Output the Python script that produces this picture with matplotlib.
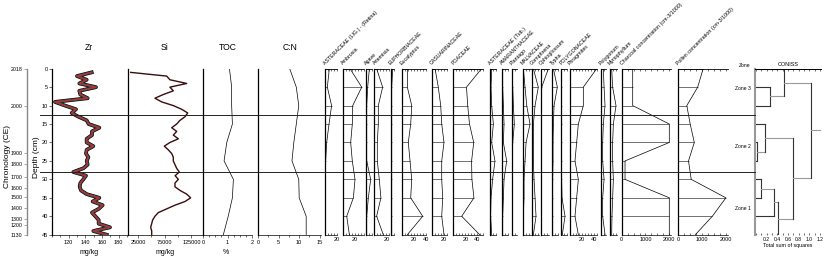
import matplotlib
matplotlib.use("Agg")
import matplotlib.pyplot as plt
from matplotlib.lines import Line2D
from matplotlib.transforms import blended_transform_factory
from matplotlib.ticker import MultipleLocator, FixedLocator

plt.rcParams['font.family'] = ['Liberation Sans', 'DejaVu Sans']

# ---------------- data ----------------
xrf_depth = list(range(1, 46))
zr = [147.6, 130, 141.6, 132.8, 152.8, 132.8, 134, 142.8, 103.6, 115.6,
      128.8, 123.6, 131.6, 141.6, 144, 156.8, 148, 148, 141.6, 141.6,
      149.6, 141.6, 140.8, 143.6, 141.6, 142.8, 137.6, 125.6, 140.8, 137.6,
      134, 133.2, 134.8, 141.6, 156.8, 148.8, 160.8, 156, 148, 152,
      156, 156, 169.6, 149.6, 165.6]
si = [11300, 78600, 84700, 116000, 84700, 91000, 72300, 56700, 69200, 91000,
      106600, 117900, 112900, 103500, 97300, 88000, 97300, 91000, 100400, 84700,
      74200, 81700, 88000, 91000, 91000, 94100, 97300, 102200, 94400, 100400,
      94100, 94100, 103500, 116000, 123400, 112900, 94100, 78600, 63000, 56700,
      52400, 50600, 48700, 50600, 50600]

sample_depth = [0, 5, 10, 15, 20, 25, 30, 35, 40, 45]
toc = [1.08, 1.17, 1.17, 1.2, 0.97, 0.86, 1.24, 1.2, 1.03, 0.83]
cn = [7.7, 9.3, 9.9, 9.3, 8.7, 8.25, 9.9, 10.0, 11.7, 11.7]

aster_lig = [7.2, 3.9, 11, 6.7, 2.8, 1.1, 0.5, 0.5, 0.5, 0.5]
ambrosia = [12.2, 31.7, 16.7, 16, 13.3, 16, 20.5, 17.8, 6.7, 11.1]
agave = [6.1, 3.3, 1.7, 1.7, 1.7, 1.7, 8.3, 4.4, 1.7, 1.7]
artemisia = [3.9, 13.9, 6.7, 6.7, 5, 5, 8.3, 11, 3.9, 15]
euphorb = [3.3, 1.7, 1.7, 1.7, 1.7, 1.7, 1.7, 1.7, 1.7, 1.7]
eucalyptus = [9.4, 9.4, 16.7, 15, 11, 13.9, 16.7, 15, 35, 9.4]
casuarina = [5.6, 11, 15, 16.7, 20.5, 16.7, 16.7, 18.3, 16.7, 20.5]
poaceae = [47, 22, 24, 27, 34, 30.5, 31, 34.4, 14, 44]
aster_tub = [2.8, 1.7, 2.8, 5.6, 2.8, 8.3, 4.4, 1.7, 1.1, 2.8]
amaranth = [1.7, 1.7, 2.8, 3.9, 2.8, 8.3, 3.9, 2.8, 1.7, 1.7]
plantago = [1.1, 1.7, 2.8, 4.4, 1.7, 0.6, 0.6, 0.6, 0.6, 0.6]
malvaceae = [1.1, 3.9, 6.7, 12.2, 5.6, 3.9, 2.2, 2.2, 1.1, 1.1]
gomphrena = [2.8, 11, 5.6, 2.8, 2.8, 2.8, 3.9, 5.6, 7.2, 2.8]
ophioglossum = [12.8, 1.7, 1.1, 1.1, 1.1, 1.1, 1.1, 1.1, 1.1, 1.1]
typha = [2.8, 9.4, 3.9, 2.8, 2.2, 2.2, 1.7, 1.7, 1.7, 1.7]
polygonaceae = [1.1, 1.1, 1.1, 1.1, 1.1, 1.1, 1.1, 1.7, 6.7, 2.2]
phragmites = [44.4, 22.2, 22.2, 13.9, 11.1, 8.3, 13.9, 11.1, 8.3, 13.9]
polygonum = [4.4, 5.6, 7.2, 4.4, 3.3, 3.3, 5.6, 3.3, 3.3, 7.2]
myriophyllum = [2.8, 4.4, 10, 5.6, 4.4, 4.4, 5.6, 4.4, 3.3, 2.8]
charcoal = [462, 462, 462, 2000, 2000, 140, 140, 2000, 2000, 2000]
pollen_conc = [1045, 815, 357, 500, 672, 429, 543, 2000, 1430, 715]

taxa = ["ASTERACEAE (LIG.) - (Retina)", "Ambrosia", "Agave", "Artemisia",
        "EUPHORBIACEAE", "Eucalyptus", "CASUARINACEAE", "POACEAE",
        "ASTERACEAE (Tub.)", "AMARANTHACEAE", "Plantago", "MALVACEAE",
        "Gomphrena", "Ophioglossum", "Typha", "POLYGONACEAE", "Phragmites",
        "Polygonum", "Myriophyllum"]
taxa_values = [aster_lig, ambrosia, agave, artemisia, euphorb, eucalyptus,
               casuarina, poaceae, aster_tub, amaranth, plantago, malvaceae,
               gomphrena, ophioglossum, typha, polygonaceae, phragmites,
               polygonum, myriophyllum]
taxa_max = [20, 35, 10, 25, 5, 40, 25, 50, 10, 10, 8, 13, 12, 14, 10, 10, 45, 8, 12]

conc_names = ["Charcoal concentration (cm-3/1000)", "Pollen concentration (cm-3/1000)"]
conc_values = [charcoal, pollen_conc]

chron_years = [2018, 2000, 1900, 1800, 1700, 1600, 1500, 1400, 1300, 1200, 1130]
chron_depth = [0, 10.0, 22.9, 25.8, 29.4, 32.3, 34.8, 37.8, 40.8, 42.5, 45]

zone_bounds = [12.5, 28]
zone_names = ["Zone 3", "Zone 2", "Zone 1"]
zone_label_depth = [5.5, 21, 38]

# CONISS merges: (child a, child b, height); leaves 0-9, new clusters from 10
coniss = [(4, 5, 0.02), (6, 7, 0.09), (3, 10, 0.17), (1, 2, 0.26),
          (11, 8, 0.34), (14, 9, 0.42), (0, 13, 0.53), (12, 15, 0.70),
          (16, 17, 1.04)]

# ---------------- layout ----------------
W, H = 825, 258
TOP, BOT = 68.7, 234.7
FS_TICK = 4.0
FS_TITLE = 6.2

fig = plt.figure(figsize=(W / 100, H / 100), dpi=100)


def add_ax(x0, x1):
    return fig.add_axes([x0 / W, (H - BOT) / H, (x1 - x0) / W, (BOT - TOP) / H])


def base_style(ax, left_lw=0.9):
    ax.set_ylim(45, 0)
    ax.patch.set_alpha(0)
    for s in ['right', 'top']:
        ax.spines[s].set_visible(False)
    ax.spines['left'].set_linewidth(left_lw)
    ax.spines['bottom'].set_linewidth(0.5)
    ax.tick_params(axis='y', left=False, labelleft=False)
    ax.tick_params(axis='x', which='both', labelsize=FS_TICK, length=2, width=0.4, pad=1.5)
    ax.tick_params(axis='x', which='minor', length=1.2)


# chronology axis
ax_chr = add_ax(27, 27.5)
ax_chr.set_ylim(45, 0)
ax_chr.patch.set_alpha(0)
for s in ['right', 'top', 'bottom']:
    ax_chr.spines[s].set_visible(False)
ax_chr.spines['left'].set_color('#888888')
ax_chr.spines['left'].set_linewidth(1.0)
ax_chr.set_xticks([])
ax_chr.set_yticks(chron_depth)
ax_chr.set_yticklabels([str(y) for y in chron_years])
ax_chr.tick_params(axis='y', labelsize=3.8, length=2.5, width=0.5, color='#888888', pad=1)
fig.text(8 / W, 1 - 157 / H, "Chronology (CE)", rotation=90, ha='center', va='center', fontsize=6)

# Zr
ax_zr = add_ax(52, 127)
base_style(ax_zr)
ax_zr.plot(zr, xrf_depth, color='black', lw=2.7, solid_joinstyle='round')
ax_zr.plot(zr, xrf_depth, color='#4a4a4a', lw=1.9, solid_joinstyle='round')
ax_zr.plot(zr, xrf_depth, color='#d42a2a', lw=0.7)
ax_zr.set_xlim(100, 190)
ax_zr.set_xticks([120, 140, 160, 180])
ax_zr.xaxis.set_minor_locator(MultipleLocator(10))
ax_zr.tick_params(axis='y', left=True, labelleft=True, labelsize=FS_TICK, length=2, width=0.4, pad=1)
ax_zr.set_yticks(range(0, 50, 5))
fig.text(36 / W, 1 - 157 / H, "Depth (cm)", rotation=90, ha='center', va='center', fontsize=6)

# Si
ax_si = add_ax(128, 203)
base_style(ax_si)
ax_si.plot(si, xrf_depth, color='#3a0c0c', lw=1.0)
ax_si.set_xlim(6300, 146500)
ax_si.set_xticks([25000, 75000, 125000])
ax_si.xaxis.set_minor_locator(FixedLocator([50000, 100000]))

# TOC
ax_toc = add_ax(203, 252)
base_style(ax_toc)
ax_toc.plot(toc, sample_depth, color='black', lw=0.5)
ax_toc.set_xlim(0, 2)
ax_toc.set_xticks([0, 1, 2])
ax_toc.xaxis.set_minor_locator(MultipleLocator(0.25))

# C:N
ax_cn = add_ax(258, 321)
base_style(ax_cn)
ax_cn.plot(cn, sample_depth, color='black', lw=0.5)
ax_cn.set_xlim(0, 15.3)
ax_cn.set_xticks([0, 5, 10, 15])
ax_cn.xaxis.set_minor_locator(MultipleLocator(2.5))

for x, t in [(89, "Zr"), (165, "Si"), (228, "TOC"), (290, "C:N")]:
    fig.text(x / W, 1 - 48 / H, t, ha='center', va='center', fontsize=FS_TITLE)
for x, t in [(89, "mg/kg"), (165, "mg/kg"), (226, "%")]:
    fig.text(x / W, 1 - 253 / H, t, ha='center', va='center', fontsize=5)

# pollen panels
PX_PER_PCT = 0.6
pollen_left = [325, 342.7, 365.7, 374.3, 390.7, 401.7, 431.7, 453.3, 490, 501.7,
               511.7, 522.7, 531.7, 540.7, 551.7, 561, 570, 600.7, 610]


def pollen_panel(x0, width, xmax, vals, name, major, minor):
    ax = add_ax(x0, x0 + width)
    base_style(ax)
    ax.spines['top'].set_visible(True)
    ax.spines['top'].set_linewidth(0.6)
    ax.hlines(sample_depth, 0, vals, color='#5a5a5a', lw=0.6)
    ax.plot(vals, sample_depth, color='black', lw=0.5)
    ax.set_xlim(0, xmax)
    ax.xaxis.set_major_locator(FixedLocator(major))
    ax.xaxis.set_minor_locator(MultipleLocator(minor))
    ax.tick_params(axis='x', which='both', direction='in', top=True, length=1.5)
    fig.text((x0 + 1) / W, 1 - (TOP - 3) / H, name, rotation=45, ha='left', va='bottom',
             rotation_mode='anchor', fontsize=3.8)
    return ax


for x0, name, vals, xmax in zip(pollen_left, taxa, taxa_values, taxa_max):
    major = [m for m in (20, 40) if m <= xmax]
    pollen_panel(x0, xmax * PX_PER_PCT, xmax, vals, name, major, 5)

conc_left = [621.7, 678.3]
for x0, name, vals in zip(conc_left, conc_names, conc_values):
    pollen_panel(x0, 49.5, 2080, vals, name, [0, 1000, 2000], 250)

# zone boundaries across the figure
trans = blended_transform_factory(fig.transFigure, ax_zr.transData)
for d in zone_bounds:
    fig.add_artist(Line2D([40 / W, 755 / W], [d, d], transform=trans, color='#222222', lw=0.7))

# dendrogram (CONISS)
ax_d = add_ax(755, 821)
ax_d.set_ylim(45, 0)
ax_d.set_xlim(-0.02, 1.22)
ax_d.patch.set_alpha(0)
ax_d.spines['right'].set_visible(False)
ax_d.spines['bottom'].set_visible(False)
ax_d.spines['left'].set_color('#999999')
ax_d.spines['left'].set_linewidth(1.5)
ax_d.spines['top'].set_linewidth(0.7)
ax_d.set_yticks([])
ax_d.set_xticks([0, 0.2, 0.4, 0.6, 0.8, 1.0, 1.2])
ax_d.set_xticklabels(["", "0.2", "0.4", "0.6", "0.8", "1.0", "1.2"])
ax_d.xaxis.set_minor_locator(MultipleLocator(0.1))
ax_d.tick_params(axis='x', which='both', top=True, direction='in', labelsize=3.6, length=1.5,
                 width=0.4, pad=1.5)
ax_d.set_xlabel("Total sum of squares", fontsize=3.8, labelpad=1)
ax_d.set_title("CONISS", fontsize=4, pad=2)

node_y = {i: d for i, d in enumerate(sample_depth)}
node_x = {i: 0.0 for i in range(len(sample_depth))}
for k, (a, b, h) in enumerate(coniss):
    for c in (a, b):
        col = '#333333' if c < len(sample_depth) else '#999999'
        ax_d.plot([node_x[c], h], [node_y[c], node_y[c]], color=col, lw=0.8)
    ax_d.plot([h, h], [node_y[a], node_y[b]], color='#333333', lw=0.8)
    new = len(sample_depth) + k
    node_y[new] = (node_y[a] + node_y[b]) / 2
    node_x[new] = h
root = len(sample_depth) + len(coniss) - 1
ax_d.plot([node_x[root], 1.22], [node_y[root], node_y[root]], color='#999999', lw=0.8)

ax_d.text(-0.1, -1, "Zone", fontsize=3.6, ha='right', va='center', clip_on=False)
for d, z in zip(zone_label_depth, zone_names):
    ax_d.text(-0.1, d, z, fontsize=3.6, ha='right', va='center', clip_on=False)

fig.savefig("out.png", dpi=100)
